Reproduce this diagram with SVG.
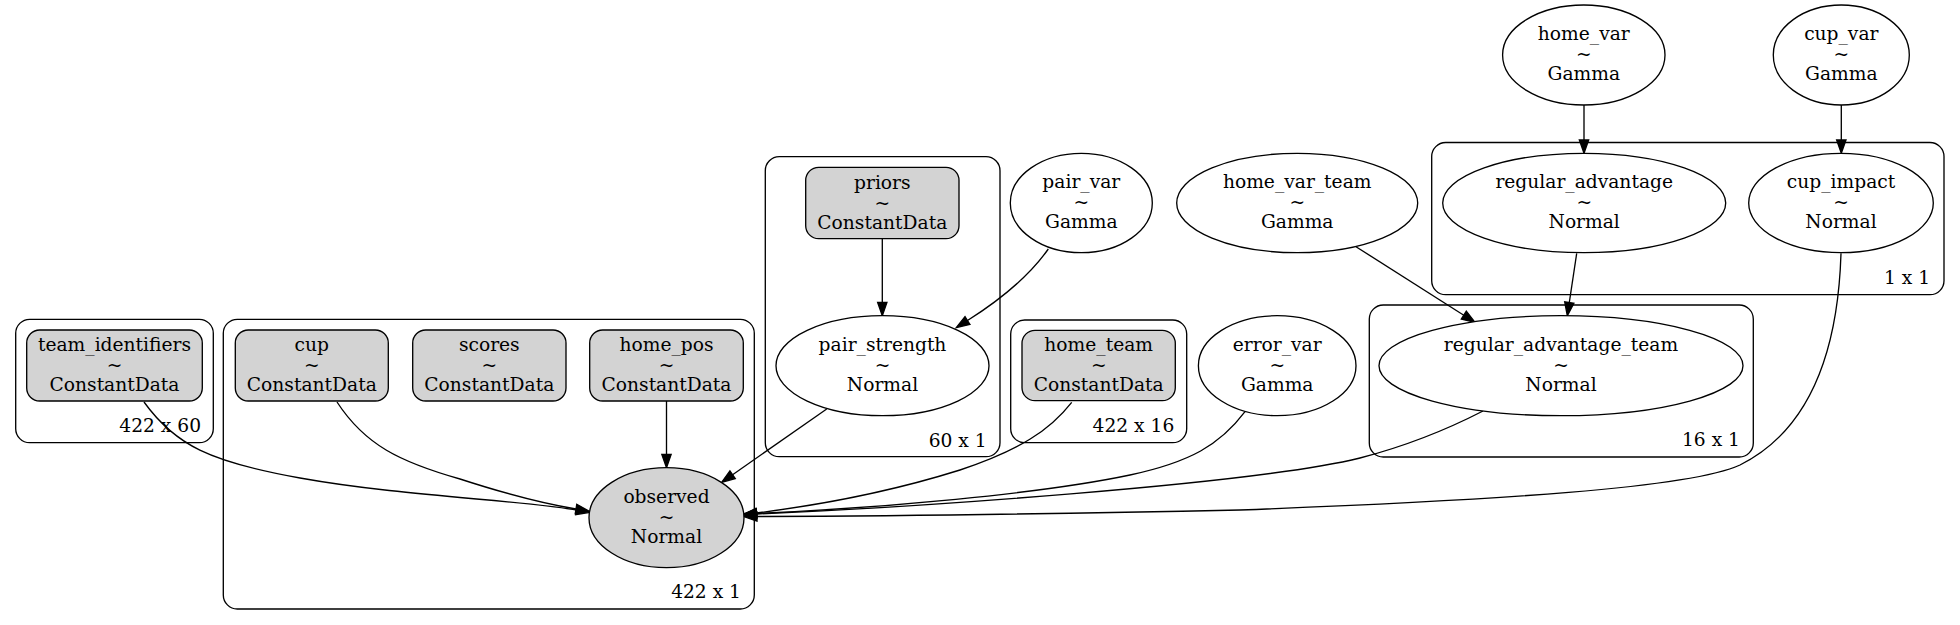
<svg xmlns="http://www.w3.org/2000/svg" width="1960" height="625" viewBox="0 0 1960 625">
<defs>
<style>
text{font-family:"DejaVu Serif","Liberation Serif",serif;font-size:18.67px;fill:#000}
.n text{text-anchor:middle}
.plate rect{fill:none;stroke:#000;stroke-width:1.33}
.plate text{text-anchor:end}
.n ellipse,.n rect{stroke:#000;stroke-width:1.33}
.w{fill:#fff}
.g{fill:#d3d3d3}
#edges path{fill:none;stroke:#000;stroke-width:1.33;marker-end:url(#arr)}
</style>
<marker id="arr" markerUnits="userSpaceOnUse" markerWidth="16" markerHeight="12" refX="0" refY="0" viewBox="-1 -6 16 12" orient="auto" overflow="visible">
<path d="M0,-4.67 L13.3,0 L0,4.67 Z" fill="#000" stroke="#000" stroke-width="1.33"/>
</marker>
</defs>
<rect width="1960" height="625" fill="#fff"/>

<g id="plates">
<g class="plate" id="plate_422x60"><rect x="15.7" y="319.3" width="197.6" height="123.4" rx="14"/><text x="201" y="431.7">422 x 60</text></g>
<g class="plate" id="plate_422x1"><rect x="223.3" y="319.3" width="531" height="289.7" rx="14"/><text x="741" y="598.3">422 x 1</text></g>
<g class="plate" id="plate_60x1"><rect x="765.3" y="156.7" width="234.7" height="300" rx="14"/><text x="986.7" y="446.5">60 x 1</text></g>
<g class="plate" id="plate_422x16"><rect x="1010.7" y="320" width="176" height="122.7" rx="14"/><text x="1174.3" y="431.7">422 x 16</text></g>
<g class="plate" id="plate_16x1"><rect x="1369.3" y="305" width="384" height="152" rx="14"/><text x="1740" y="446">16 x 1</text></g>
<g class="plate" id="plate_1x1"><rect x="1431.7" y="142.5" width="512.3" height="152.2" rx="14"/><text x="1930" y="284">1 x 1</text></g>
</g>

<g id="edges">
<path d="M144,402 C175,445 210,462 300,478 C400,496 520,500 576.5,510"/>
<path d="M337,402 C365,445 400,462 460,479 C500,492 540,503 576,509"/>
<path d="M666.5,401 L666.5,454.4"/>
<path d="M882.3,238.7 L882.3,302.4"/>
<path d="M1048.3,249 C1030,275 1000,300 967.5,320.5"/>
<path d="M826.7,409 L732.6,474.7"/>
<path d="M1071.7,402.3 C1050,430 1020,450 960,470 C890,492 820,505 756.5,513"/>
<path d="M1245,411.7 C1220,445 1190,462 1130,475 C1040,494 880,508 756.5,513.5"/>
<path d="M1483,411 C1450,428 1410,445 1360,458 C1250,485 900,508 756.5,514"/>
<path d="M1841,253.3 C1838,350 1810,430 1740,465 C1690,488 1500,500 1240,510 C1000,515 880,516 757,516.5"/>
<path d="M1584,105 L1584,140"/>
<path d="M1841.3,105 L1841.3,140"/>
<path d="M1356,246.7 L1463.8,315.2"/>
<path d="M1576.7,253.3 L1569.3,302.5"/>
</g>

<g id="nodes">
<g class="n" id="team_identifiers"><rect class="g" x="26.7" y="330" width="175.6" height="71" rx="13"/><text x="114.5" y="351">team_identifiers</text><text x="114.5" y="371">~</text><text x="114.5" y="391">ConstantData</text></g>
<g class="n" id="cup"><rect class="g" x="235.3" y="330" width="153" height="71" rx="13"/><text x="311.8" y="351">cup</text><text x="311.8" y="371">~</text><text x="311.8" y="391">ConstantData</text></g>
<g class="n" id="scores"><rect class="g" x="412.7" y="330" width="153.3" height="71" rx="13"/><text x="489.3" y="351">scores</text><text x="489.3" y="371">~</text><text x="489.3" y="391">ConstantData</text></g>
<g class="n" id="home_pos"><rect class="g" x="589.7" y="330" width="153.6" height="71" rx="13"/><text x="666.5" y="351">home_pos</text><text x="666.5" y="371">~</text><text x="666.5" y="391">ConstantData</text></g>
<g class="n" id="observed"><ellipse class="g" cx="666.5" cy="517.7" rx="77.5" ry="50"/><text x="666.5" y="503">observed</text><text x="666.5" y="523">~</text><text x="666.5" y="543">Normal</text></g>
<g class="n" id="priors"><rect class="g" x="805.7" y="167.3" width="153.3" height="71.4" rx="13"/><text x="882.3" y="188.5">priors</text><text x="882.3" y="208.5">~</text><text x="882.3" y="228.5">ConstantData</text></g>
<g class="n" id="pair_strength"><ellipse class="w" cx="882.5" cy="365.7" rx="106.5" ry="50"/><text x="882.5" y="351">pair_strength</text><text x="882.5" y="371">~</text><text x="882.5" y="391">Normal</text></g>
<g class="n" id="pair_var"><ellipse class="w" cx="1081.3" cy="203" rx="71" ry="49.7"/><text x="1081.3" y="188.3">pair_var</text><text x="1081.3" y="208.3">~</text><text x="1081.3" y="228.3">Gamma</text></g>
<g class="n" id="home_team"><rect class="g" x="1022" y="330.3" width="153.3" height="70.4" rx="13"/><text x="1098.7" y="351">home_team</text><text x="1098.7" y="371">~</text><text x="1098.7" y="391">ConstantData</text></g>
<g class="n" id="error_var"><ellipse class="w" cx="1277.2" cy="365.7" rx="78.8" ry="50"/><text x="1277.2" y="351">error_var</text><text x="1277.2" y="371">~</text><text x="1277.2" y="391">Gamma</text></g>
<g class="n" id="home_var_team"><ellipse class="w" cx="1297.2" cy="203" rx="120.5" ry="49.7"/><text x="1297.2" y="188.3">home_var_team</text><text x="1297.2" y="208.3">~</text><text x="1297.2" y="228.3">Gamma</text></g>
<g class="n" id="regular_advantage"><ellipse class="w" cx="1584.2" cy="203" rx="141.5" ry="49.7"/><text x="1584.2" y="188.3">regular_advantage</text><text x="1584.2" y="208.3">~</text><text x="1584.2" y="228.3">Normal</text></g>
<g class="n" id="cup_impact"><ellipse class="w" cx="1841" cy="203" rx="92.3" ry="49.7"/><text x="1841" y="188.3">cup_impact</text><text x="1841" y="208.3">~</text><text x="1841" y="228.3">Normal</text></g>
<g class="n" id="home_var"><ellipse class="w" cx="1583.8" cy="55" rx="81.2" ry="50"/><text x="1583.8" y="40.3">home_var</text><text x="1583.8" y="60.3">~</text><text x="1583.8" y="80.3">Gamma</text></g>
<g class="n" id="cup_var"><ellipse class="w" cx="1841.3" cy="55" rx="68" ry="50"/><text x="1841.3" y="40.3">cup_var</text><text x="1841.3" y="60.3">~</text><text x="1841.3" y="80.3">Gamma</text></g>
<g class="n" id="regular_advantage_team"><ellipse class="w" cx="1561" cy="365.7" rx="182" ry="50"/><text x="1561" y="351">regular_advantage_team</text><text x="1561" y="371">~</text><text x="1561" y="391">Normal</text></g>
</g>
</svg>
